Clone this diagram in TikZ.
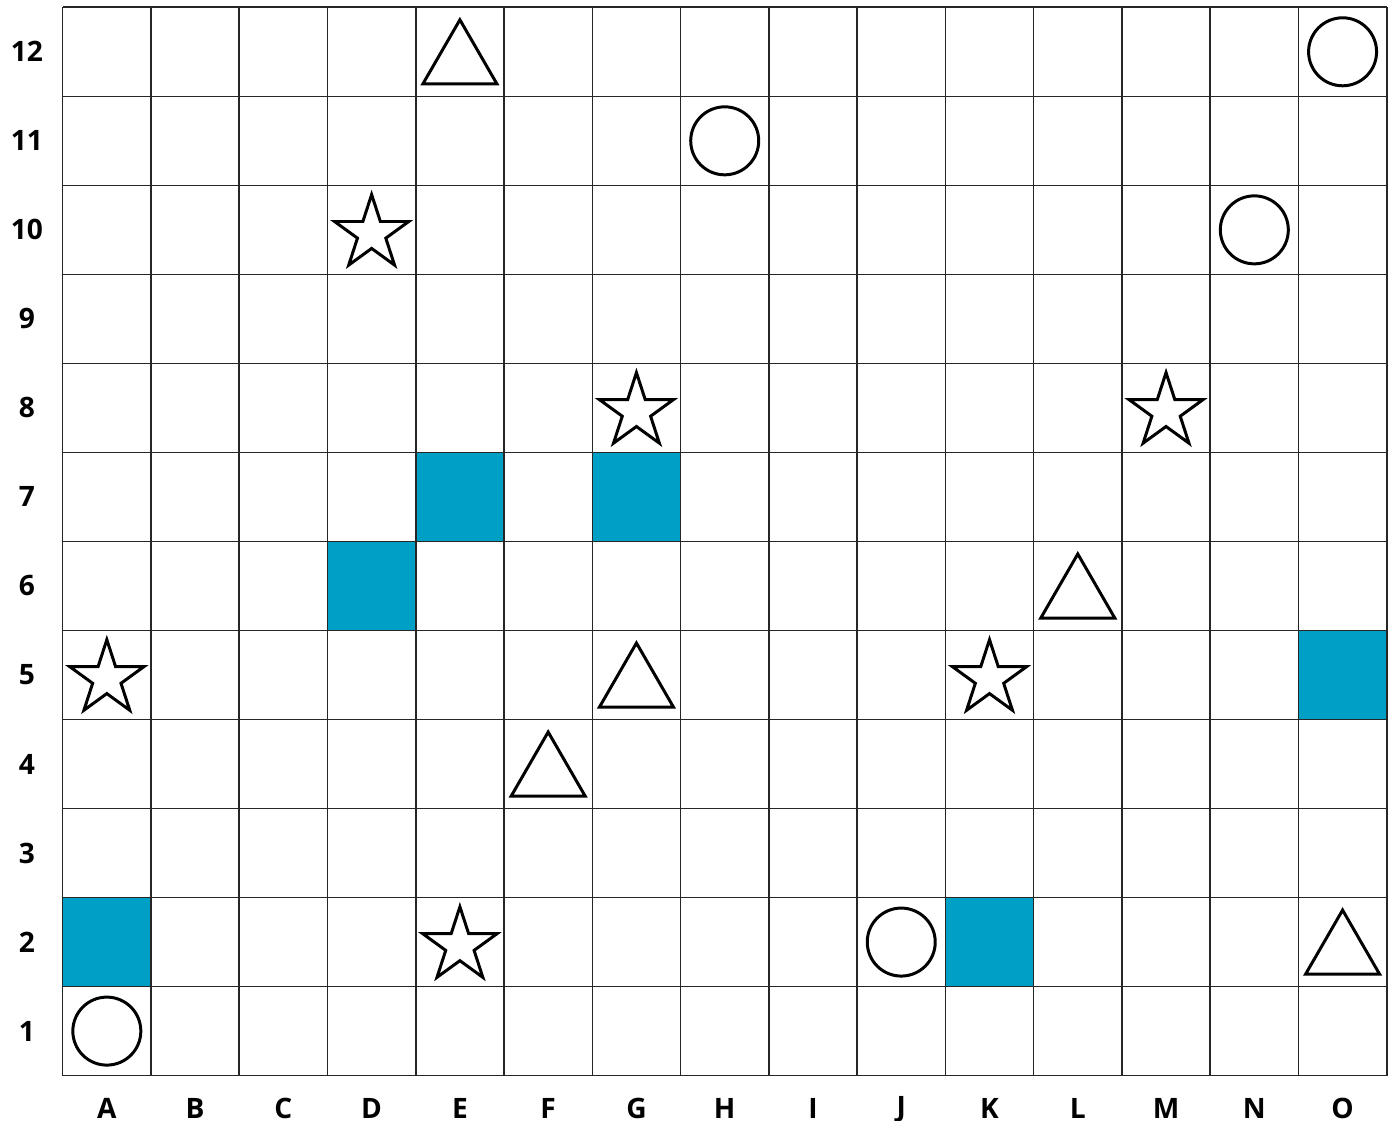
\documentclass[tikz,border=0pt]{standalone}
\usepackage{fontspec}
\setmainfont{Open Sans}
\usepackage{xcolor}
\usetikzlibrary{shapes.geometric}
\definecolor{cellblue}{RGB}{0,159,198}

\begin{document}
\begin{tikzpicture}[
  x=8.827mm, y=8.903mm,
  gridline/.style={line width=0.45pt, draw=black!85},
  ring/.style={circle, draw, line width=0.85pt, minimum size=6.8mm, inner sep=0pt},
  tri/.style={regular polygon, regular polygon sides=3, draw, line width=0.85pt, minimum size=8.54mm, inner sep=0pt, yshift=-1.07mm},
  starmark/.style={star, star points=5, star point ratio=2.618, draw, line width=0.85pt, minimum size=7.8mm, inner sep=0pt, yshift=-0.37mm},
  axislabel/.style={font=\bfseries\fontsize{8}{10}\selectfont, inner sep=0pt}
]
\useasboundingbox (-0.7103,-0.5088) rectangle (15.0827,12.082);

% shaded cells
\fill[cellblue] (4,6) rectangle (5,7);   % E7
\fill[cellblue] (6,6) rectangle (7,7);   % G7
\fill[cellblue] (3,5) rectangle (4,6);   % D6
\fill[cellblue] (14,4) rectangle (15,5); % O5
\fill[cellblue] (0,1) rectangle (1,2);   % A2
\fill[cellblue] (10,1) rectangle (11,2); % K2

% grid
\foreach \i in {0,...,15}
  \draw[gridline] (\i,0) -- (\i,12);
\foreach \j in {0,...,12}
  \draw[gridline] (0,\j) -- (15,\j);

% axis labels
\foreach \l [count=\i] in {A,B,C,D,E,F,G,H,I,J,K,L,M,N,O}
  \node[axislabel] (col\l) at (\i-0.5,-0.374) {\l};
\foreach \j in {1,...,12}
  \node[axislabel] (row\j) at (-0.4045,\j-0.5) {\j};

% circles
\node[ring] (ringO12) at (14.5,11.5) {};
\node[ring] (ringH11) at (7.5,10.5) {};
\node[ring] (ringN10) at (13.5,9.5) {};
\node[ring] (ringJ2) at (9.5,1.5) {};
\node[ring] (ringA1) at (0.5,0.5) {};

% triangles
\node[tri] (triE12) at (4.5,11.5) {};
\node[tri] (triL6) at (11.5,5.5) {};
\node[tri] (triG5) at (6.5,4.5) {};
\node[tri] (triF4) at (5.5,3.5) {};
\node[tri] (triO2) at (14.5,1.5) {};

% stars
\node[starmark] (starD10) at (3.5,9.5) {};
\node[starmark] (starG8) at (6.5,7.5) {};
\node[starmark] (starM8) at (12.5,7.5) {};
\node[starmark] (starA5) at (0.5,4.5) {};
\node[starmark] (starK5) at (10.5,4.5) {};
\node[starmark] (starE2) at (4.5,1.5) {};
\end{tikzpicture}
\end{document}
